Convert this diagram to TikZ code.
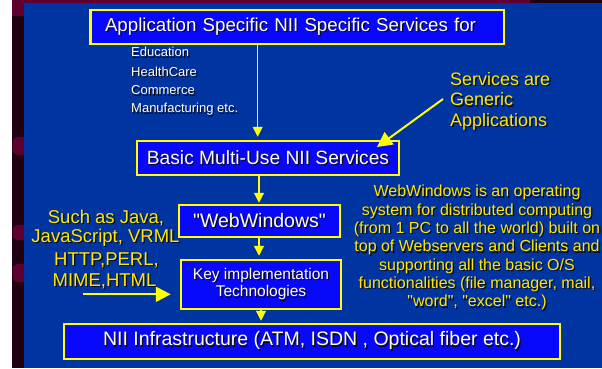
\documentclass[tikz,border=0pt]{standalone}
\usepackage{fontspec}
\setmainfont{Liberation Sans}[Ligatures=TeXOff]
\usetikzlibrary{arrows.meta}
\definecolor{bgblue}{RGB}{0,52,160}
\definecolor{boxblue}{RGB}{8,8,250}
\definecolor{ylw}{RGB}{255,255,0}
\definecolor{txty}{RGB}{255,232,0}
\definecolor{stripc}{RGB}{32,0,16}
\definecolor{maroonc}{RGB}{96,0,48}
\definecolor{shadowc}{RGB}{10,10,30}
\newcommand\shd[1]{\leavevmode\rlap{\kern1.3pt\raisebox{-1.3pt}{\color{shadowc}#1}}#1}
\newcommand\fsz[2]{\fontsize{#1}{#2}\selectfont}
\newcommand\dq{\char"22\relax}
\begin{document}
\begin{tikzpicture}[x=1pt,y=-1pt,
  nbox/.style={draw=ylw, line width=2.5pt, fill=boxblue, text=white, inner sep=0pt},
  wtxt/.style={text=white, inner sep=0pt},
  ytxt/.style={text=txty, inner sep=0pt},
  thinarrow/.style={draw=ylw, line width=1.2pt, -{Triangle[width=10pt,length=10pt]}},
  bigarrow/.style={draw=ylw, line width=2pt, -{Triangle[width=15pt,length=15pt]}}]
\useasboundingbox (0,0) rectangle (602,368);
% background
\fill[white] (0,0) rectangle (602,368);
\fill[stripc] (11.5,0) rectangle (24,368);
\fill[maroonc] (11.5,0) rectangle (24,16);
\fill[maroonc] (24,0) rectangle (530,3);
\fill[stripc] (530,0) rectangle (602,3);
\fill[maroonc, rounded corners=5pt] (12.5,137) rectangle (34,155);
\fill[maroonc, rounded corners=5pt] (12.5,225) rectangle (34,240);
\fill[maroonc, rounded corners=5pt] (12.5,264) rectangle (34,282);
\fill[bgblue] (24,3) rectangle (602,368);

% boxes
\node[nbox, minimum width=413.5pt, minimum height=34pt, text width=384pt, align=left,
      font=\fsz{18.7}{22}] (b1) at (297,27) {\shd{Application Specific NII Specific Services for}};
\node[nbox, minimum width=262pt, minimum height=34pt, font=\fsz{19.2}{22}] (b2) at (268,158)
      {\shd{Basic Multi-Use NII Services}};
\node[nbox, minimum width=161pt, minimum height=32pt, font=\fsz{19.5}{22}] (b3) at (259.5,221)
      {\shd{\dq WebWindows\dq}};
\node[nbox, minimum width=160pt, minimum height=49pt, align=center, font=\fsz{15.5}{17.7}] (b4) at (261,284.5)
      {\shd{Key implementation}\\\shd{Technologies}};
\node[nbox, minimum width=496pt, minimum height=35pt, font=\fsz{19.5}{22}] (b5) at (312,341.5)
      {\shd{NII Infrastructure (ATM, ISDN , Optical fiber etc.)}};

% list under top box
\node[wtxt, anchor=west, font=\fsz{13}{15}] (e1) at (131,52.7) {\shd{Education}};
\node[wtxt, anchor=west, font=\fsz{13}{15}] (e2) at (131,72) {\shd{HealthCare}};
\node[wtxt, anchor=west, font=\fsz{13}{15}] (e3) at (131,91) {\shd{Commerce}};
\node[wtxt, anchor=west, font=\fsz{13}{15}] (e4) at (131,110) {\shd{Manufacturing etc.}};

% services note
\node[ytxt, anchor=west, align=left, font=\fsz{18}{20.5}] (sv) at (450,101.7)
      {\shd{Services are}\\\shd{Generic}\\\shd{Applications}};

% left note
\node[ytxt, font=\fsz{18.5}{20}] (l1) at (106,218.5) {\shd{Such as Java,}};
\node[ytxt, font=\fsz{18.5}{20}] (l2) at (105.5,238) {\shd{JavaScript, VRML}};
\node[ytxt, font=\fsz{18.5}{20}] (l3) at (106.5,261) {\shd{HTTP,PERL,}};
\node[ytxt, font=\fsz{18.5}{20}] (l4) at (104.5,281.5) {\shd{MIME,HTML}};

% right note
\node[ytxt, align=center, font=\fsz{16}{18.33}] (ww) at (477,248.3)
      {\shd{WebWindows is an operating}\\
       \shd{system for distributed computing}\\
       \shd{(from 1 PC to all the world) built on}\\
       \shd{top of Webservers and Clients and}\\
       \shd{supporting all the basic O/S}\\
       \shd{functionalities (file manager, mail,}\\
       \shd{\dq word\dq, \dq excel\dq\ etc.)}};

% connectors
\coordinate (x1) at (257.7,0);
\coordinate (x2) at (259,0);
\coordinate (x4) at (261,0);
\draw[thinarrow, shorten >=3pt] (b1.south -| x1) -- (b2.north -| x1);
\draw[thinarrow, shorten >=1pt] (b2.south -| x2) -- (b3.north -| x2);
\draw[thinarrow, shorten >=3pt] (b3.south -| x2) -- (b4.north -| x2);
\draw[thinarrow, shorten >=2pt] (b4.south -| x4) -- (b5.north -| x4);
\coordinate (s5) at (443,99);
\coordinate (t5) at (377,147);
\draw[bigarrow] (s5) -- (t5);
\coordinate (s6) at (82.5,294.3);
\draw[bigarrow, shorten >=9pt] (s6) -- (s6 -| b4.west);
\end{tikzpicture}
\end{document}
